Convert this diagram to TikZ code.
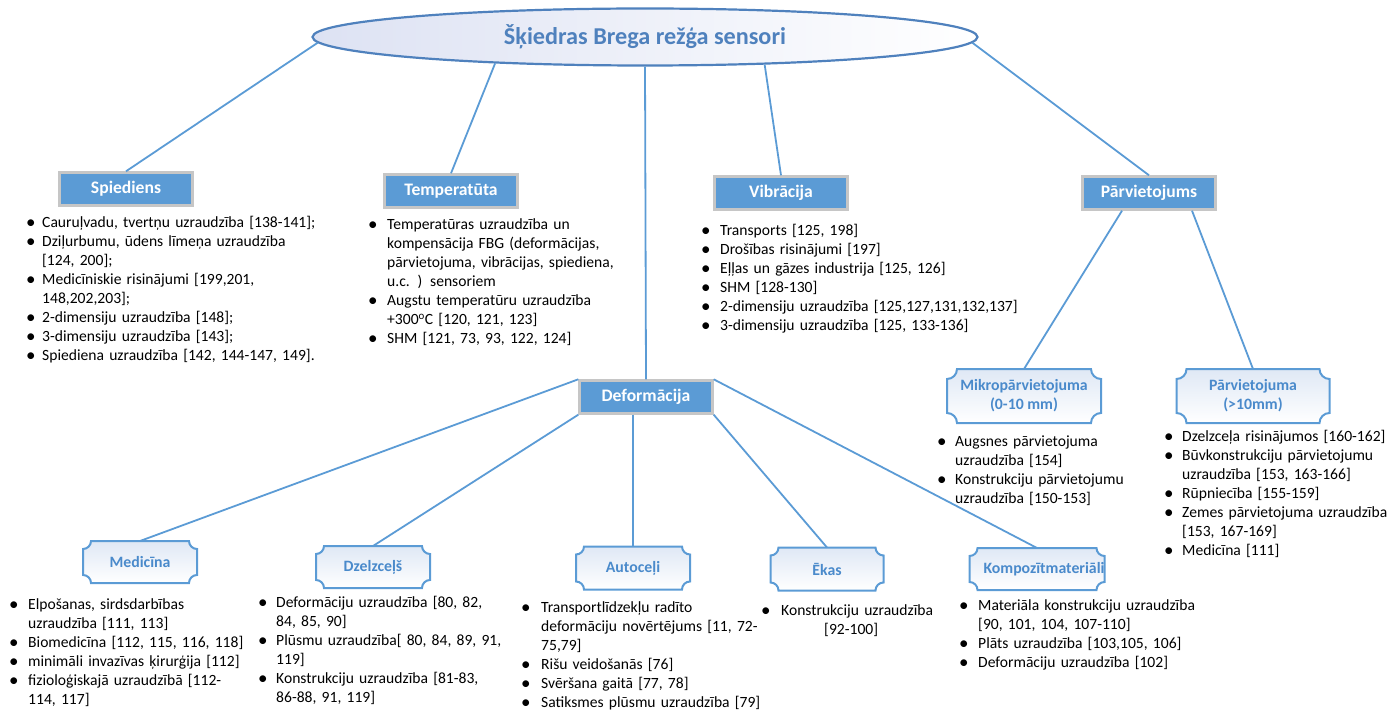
\documentclass[tikz,border=0pt]{standalone}
\usepackage{fontspec}
\setmainfont{Carlito}
\usetikzlibrary{shapes.geometric,calc,backgrounds}

\definecolor{officeblue}{HTML}{5B9BD5}
\definecolor{titleblue}{HTML}{4F81BD}
\definecolor{plaqueblue}{HTML}{4A8ACB}
\definecolor{boxrim}{HTML}{C6C6C6}
\definecolor{ovalfill}{HTML}{DDE2F3}
\definecolor{plaquefill}{HTML}{DFE8F5}

% a round bullet a little larger than the text
\newcommand\bigdot{\raisebox{-1pt}{\fontsize{19}{19}\selectfont\textbullet}}

% bulleted list with a hanging indent and no extra vertical space
\newenvironment{blist}[1][18pt]{%
  \begin{list}{\bigdot}{%
    \setlength\leftmargin{#1}\setlength\labelwidth{#1}\setlength\labelsep{0pt}%
    \setlength\itemsep{0pt}\setlength\parsep{0pt}%
    \setlength\topsep{0pt}\setlength\partopsep{0pt}%
    \renewcommand\makelabel[1]{##1\hfil}}}%
  {\end{list}}

% frame with concave corners around a named node (#2 = corner radius in pt)
\newcommand\plaqueframe[2]{%
  \path[draw=officeblue, line width=2pt, top color=plaquefill, bottom color=white]
    ($(#1.north west)+(#2pt,0pt)$) -- ($(#1.north east)+(-#2pt,0pt)$)
    arc[start angle=180, end angle=270, radius=#2pt]
    -- ($(#1.south east)+(0pt,#2pt)$)
    arc[start angle=90, end angle=180, radius=#2pt]
    -- ($(#1.south west)+(#2pt,0pt)$)
    arc[start angle=0, end angle=90, radius=#2pt]
    -- ($(#1.north west)+(0pt,-#2pt)$)
    arc[start angle=270, end angle=360, radius=#2pt] -- cycle;}

\tikzset{
  link/.style={draw=officeblue, line width=1.8pt},
  topicbox/.style={rectangle, fill=officeblue, draw=boxrim, line width=2.4pt,
    minimum width=133pt, minimum height=33pt, inner sep=0pt, text=white,
    font=\fontsize{17.6}{20}\selectfont\bfseries},
  subbox/.style={rectangle, inner sep=0pt, outer sep=0pt, text=plaqueblue,
    align=center, font=\fontsize{15.8}{19}\selectfont\bfseries},
  itemlist/.style={anchor=north west, inner sep=0pt, text width=420pt,
    align=left, font=\fontsize{15.6}{19.1}\selectfont},
}

\begin{document}
\begin{tikzpicture}[x=1pt,y=-1pt]
\useasboundingbox (0,0) rectangle (1391,711);

% root
\node[ellipse, draw=titleblue, line width=2.2pt, left color=ovalfill, right color=white,
  minimum width=665pt, minimum height=57pt, inner sep=0pt, text=titleblue,
  font=\fontsize{24.2}{27}\selectfont\bfseries] (root) at (645,37) {Šķiedras Brega režģa sensori};

% first level
\node[topicbox] (spied) at (126,189) {Spiediens};
\node[topicbox] (temp) at (451,191) {Temperatūta};
\node[topicbox] (vib) at (781,193) {Vibrācija};
\node[topicbox] (pv) at (1149,193) {Pārvietojums};
\node[topicbox] (def) at (646,397) {Deformācija};

% second level
\node[subbox, minimum width=154pt, minimum height=54pt] (micro) at (1024,396) {Mikropārvietojuma\\(0-10 mm)};
\node[subbox, minimum width=153pt, minimum height=54pt] (macro) at (1253,396) {Pārvietojuma\\(>10mm)};
\node[subbox, minimum width=114pt, minimum height=42pt] (med) at (140,562) {Medicīna};
\node[subbox, minimum width=114pt, minimum height=42pt] (rail) at (373,567) {Dzelzceļš};
\node[subbox, minimum width=114pt, minimum height=43pt] (road) at (633,568) {Autoceļi};
\node[subbox, minimum width=113pt, minimum height=43pt] (bldg) at (827,569) {Ēkas};
\node[subbox, minimum width=124pt, minimum height=42pt] (comp) at (1037,569) {\hspace*{14pt}Kompozītmateriāli};

\begin{scope}[on background layer]
  \plaqueframe{micro}{10}
  \plaqueframe{macro}{10}
  \plaqueframe{med}{8}
  \plaqueframe{rail}{8}
  \plaqueframe{road}{8}
  \plaqueframe{bldg}{8}
  \plaqueframe{comp}{8}
\end{scope}

% connectors
\draw[link] (root.181) -- (spied.north);
\draw[link] (root.190) -- (temp.north);
\draw[link] (root.south) -- (def.north);
\draw[link] (root.347.5) -- (vib.north);
\draw[link] (root.359) -- (pv.north);
\draw[link] ($(pv.south)+(-27,0)$) -- (micro.north);
\draw[link] ($(pv.south)+(43,0)$) -- (macro.north);
\draw[link] (def.north west) -- (med.north);
\draw[link] (def.south west) -- (rail.north);
\draw[link] (road.north |- def.south) -- (road.north);
\draw[link] (def.south east) -- (bldg.north);
\draw[link] (def.north east) -- (comp.north);

% item lists
\node[itemlist] (spiedL) at (26,208) {\begin{blist}[16pt]
\item Cauruļvadu, tvertņu uzraudzība [138-141];
\item Dziļurbumu, ūdens līmeņa uzraudzība\\\relax [124, 200];
\item Medicīniskie risinājumi [199,201,\\ 148,202,203];
\item 2-dimensiju uzraudzība [148];
\item 3-dimensiju uzraudzība [143];
\item Spiediena uzraudzība [142, 144-147, 149].
\end{blist}};

\node[itemlist] (tempL) at (368,210) {\begin{blist}[19pt]
\item Temperatūras uzraudzība un\\ kompensācija FBG (deformācijas,\\ pārvietojuma, vibrācijas, spiediena,\\ u.c. ) sensoriem
\item Augstu temperatūru uzraudzība\\ +300\textsuperscript{o}C [120, 121, 123]
\item SHM [121, 73, 93, 122, 124]
\end{blist}};

\node[itemlist] (vibL) at (701,216) {\begin{blist}[19pt]
\item Transports [125, 198]
\item Drošības risinājumi [197]
\item Eļļas un gāzes industrija [125, 126]
\item SHM [128-130]
\item 2-dimensiju uzraudzība [125,127,131,132,137]
\item 3-dimensiju uzraudzība [125, 133-136]
\end{blist}};

\node[itemlist] (microL) at (937,427) {\begin{blist}[18pt]
\item Augsnes pārvietojuma\\ uzraudzība [154]
\item Konstrukciju pārvietojumu\\ uzraudzība [150-153]
\end{blist}};

\node[itemlist] (macroL) at (1164,422) {\begin{blist}[18pt]
\item Dzelzceļa risinājumos [160-162]
\item Būvkonstrukciju pārvietojumu\\ uzraudzība [153, 163-166]
\item Rūpniecība [155-159]
\item Zemes pārvietojuma uzraudzība\\\relax [153, 167-169]
\item Medicīna [111]
\end{blist}};

\node[itemlist] (medL) at (9,590) {\begin{blist}[19pt]
\item Elpošanas, sirdsdarbības\\ uzraudzība [111, 113]
\item Biomedicīna [112, 115, 116, 118]
\item minimāli invazīvas ķirurģija [112]
\item fizioloģiskajā uzraudzībā [112-\\ 114, 117]
\end{blist}};

\node[itemlist] (railL) at (258,588) {\begin{blist}[18pt]
\item Deformāciju uzraudzība [80, 82,\\ 84, 85, 90]
\item Plūsmu uzraudzība[ 80, 84, 89, 91,\\ 119]
\item Konstrukciju uzraudzība [81-83,\\ 86-88, 91, 119]
\end{blist}};

\node[itemlist] (roadL) at (521,593) {\begin{blist}[20pt]
\item Transportlīdzekļu radīto\\ deformāciju novērtējums [11, 72-\\ 75,79]
\item Rišu veidošanās [76]
\item Svēršana gaitā [77, 78]
\item Satiksmes plūsmu uzraudzība [79]
\end{blist}};

\node[itemlist] (bldgL) at (761,596) {\begin{blist}[20pt]
\item Konstrukciju uzraudzība\\ \hspace*{43pt}[92-100]
\end{blist}};

\node[itemlist] (compL) at (959,591) {\begin{blist}[19pt]
\item Materiāla konstrukciju uzraudzība\\\relax [90, 101, 104, 107-110]
\item Plāts uzraudzība [103,105, 106]
\item Deformāciju uzraudzība [102]
\end{blist}};

\end{tikzpicture}
\end{document}
